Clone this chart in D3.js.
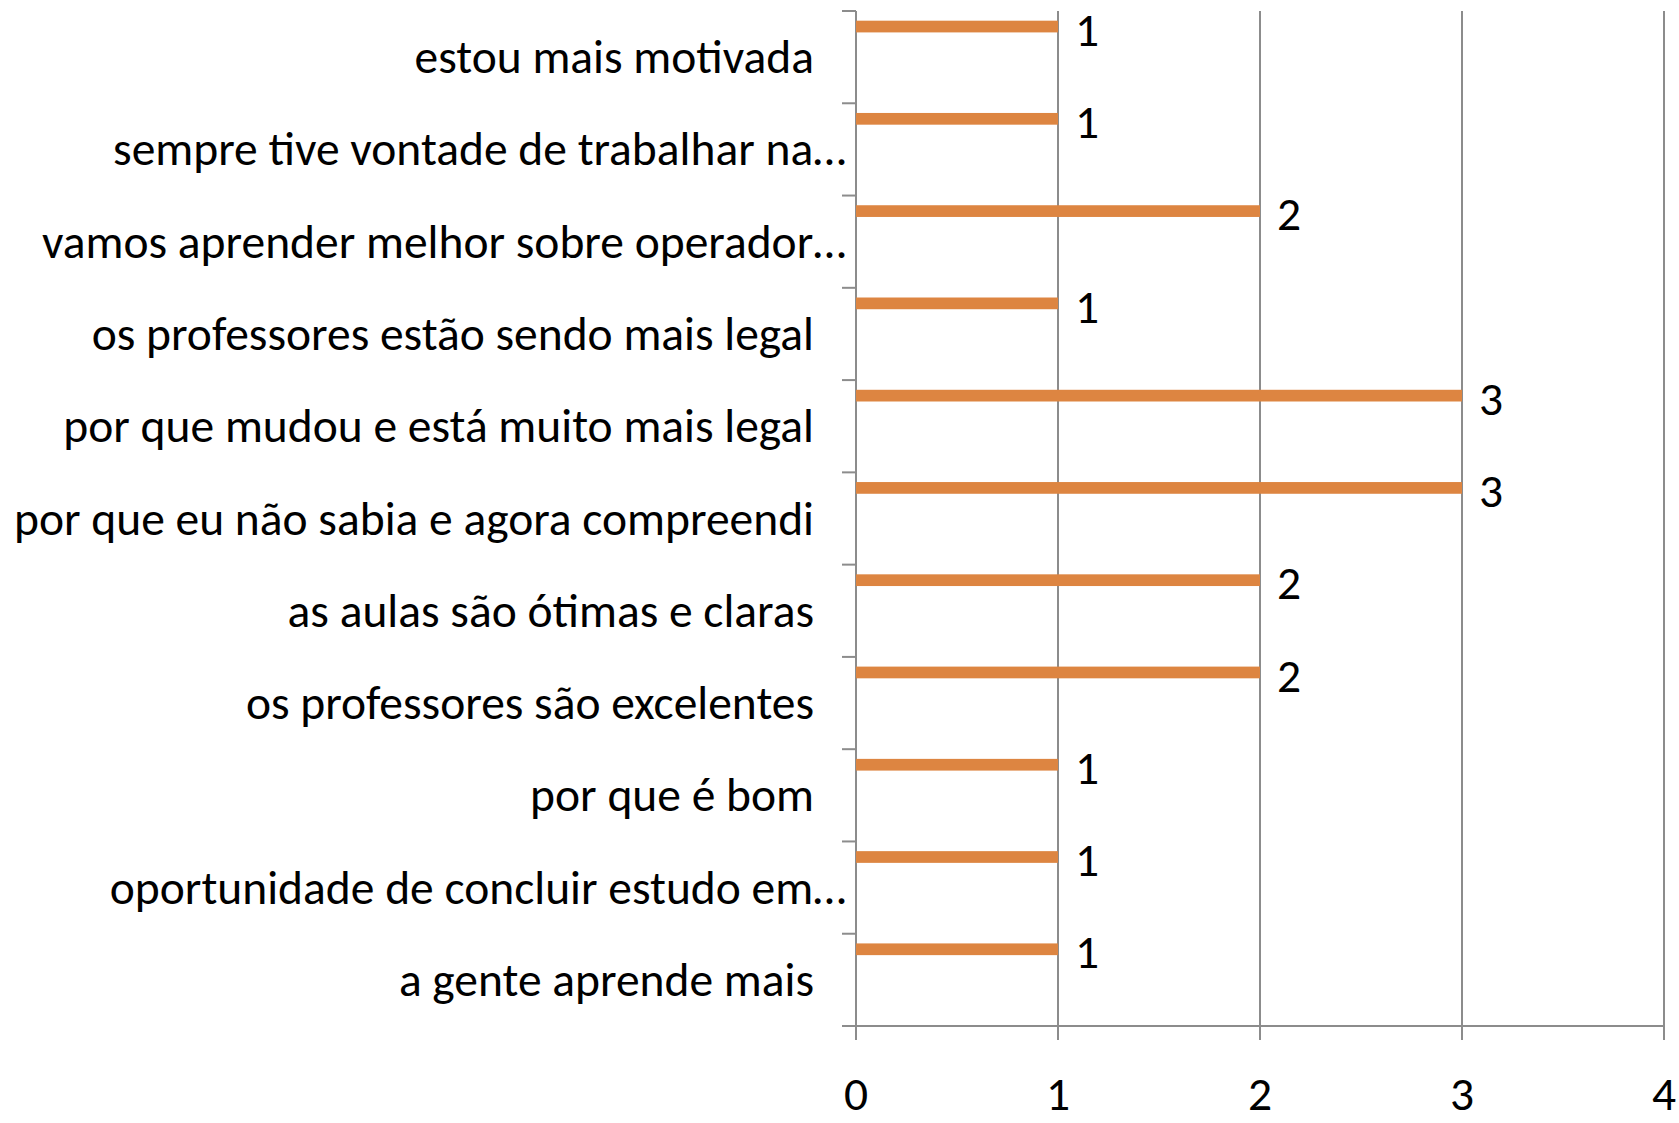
<!DOCTYPE html>
<html>
<head>
<meta charset="utf-8">
<script src="https://cdn.jsdelivr.net/npm/d3@7"></script>
<style>
  html, body { margin: 0; padding: 0; background: #fff; }
  svg text { font-family: Carlito, "Liberation Sans Narrow", "Open Sans", sans-serif; white-space: pre; }
</style>
</head>
<body>
<svg id="chart" width="1679" height="1123"></svg>
<script>
// categories top to bottom
const categories = [
    "estou mais motivada",
    "sempre tive vontade de trabalhar na…",
    "vamos aprender melhor sobre operador…",
    "os professores estão sendo mais legal",
    "por que mudou e está muito mais legal",
    "por que eu não sabia e agora compreendi",
    "as aulas são ótimas e claras",
    "os professores são excelentes",
    "por que é bom",
    "oportunidade de concluir estudo em…",
    "a gente aprende mais"
];
const values = [1, 1, 2, 1, 3, 3, 2, 2, 1, 1, 1];
const xTicks = [0, 1, 2, 3, 4];

const svg = d3.select("#chart");
const gridColor = "#8c8c8c", barColor = "#dd8541";
const fontSize = 47.5;

const x = d3.scaleLinear().domain([0, 4]).range([856, 1664]);
const y = d3.scaleBand().domain(categories).range([11, 1026]).padding(0);
const bw = y.bandwidth();
const tick = 14;

// vertical gridlines + bottom ticks
svg.append("g").selectAll("line").data(xTicks).join("line")
    .attr("x1", d => x(d)).attr("x2", d => x(d))
    .attr("y1", y.range()[0])
    .attr("y2", y.range()[1] + tick)
    .attr("stroke", gridColor).attr("stroke-width", 2);

// baseline
svg.append("line")
    .attr("x1", x(0) - tick).attr("x2", x(4))
    .attr("y1", y.range()[1]).attr("y2", y.range()[1])
    .attr("stroke", gridColor).attr("stroke-width", 2);

// category ticks at band edges
const edges = categories.map(c => y(c));
svg.append("g").selectAll("line").data(edges).join("line")
    .attr("x1", x(0) - tick).attr("x2", x(0))
    .attr("y1", d => d).attr("y2", d => d)
    .attr("stroke", gridColor).attr("stroke-width", 2);

// bars
svg.append("g").selectAll("rect").data(values).join("rect")
    .attr("x", x(0))
    .attr("y", (d, i) => y(categories[i]) + bw * 0.105)
    .attr("width", d => x(d) - x(0))
    .attr("height", bw * 0.127)
    .attr("fill", barColor);

// value labels
svg.append("g").selectAll("text").data(values).join("text")
    .attr("x", d => x(d) + 17)
    .attr("y", (d, i) => y(categories[i]) + bw * 0.17 + 3)
    .attr("dominant-baseline", "central")
    .attr("font-size", fontSize)
    .text(d => d);

// category labels
svg.append("g").selectAll("text").data(categories).join("text")
    .attr("x", d => d.endsWith("…") ? 846 : 814)
    .attr("y", d => y(d) + bw / 2)
    .attr("text-anchor", "end")
    .attr("dominant-baseline", "central")
    .attr("font-size", fontSize)
    .text(d => d);

// x tick labels
svg.append("g").selectAll("text").data(xTicks).join("text")
    .attr("x", d => x(d))
    .attr("y", 1094)
    .attr("text-anchor", "middle")
    .attr("dominant-baseline", "central")
    .attr("font-size", fontSize)
    .text(d => d);
</script>
</body>
</html>
